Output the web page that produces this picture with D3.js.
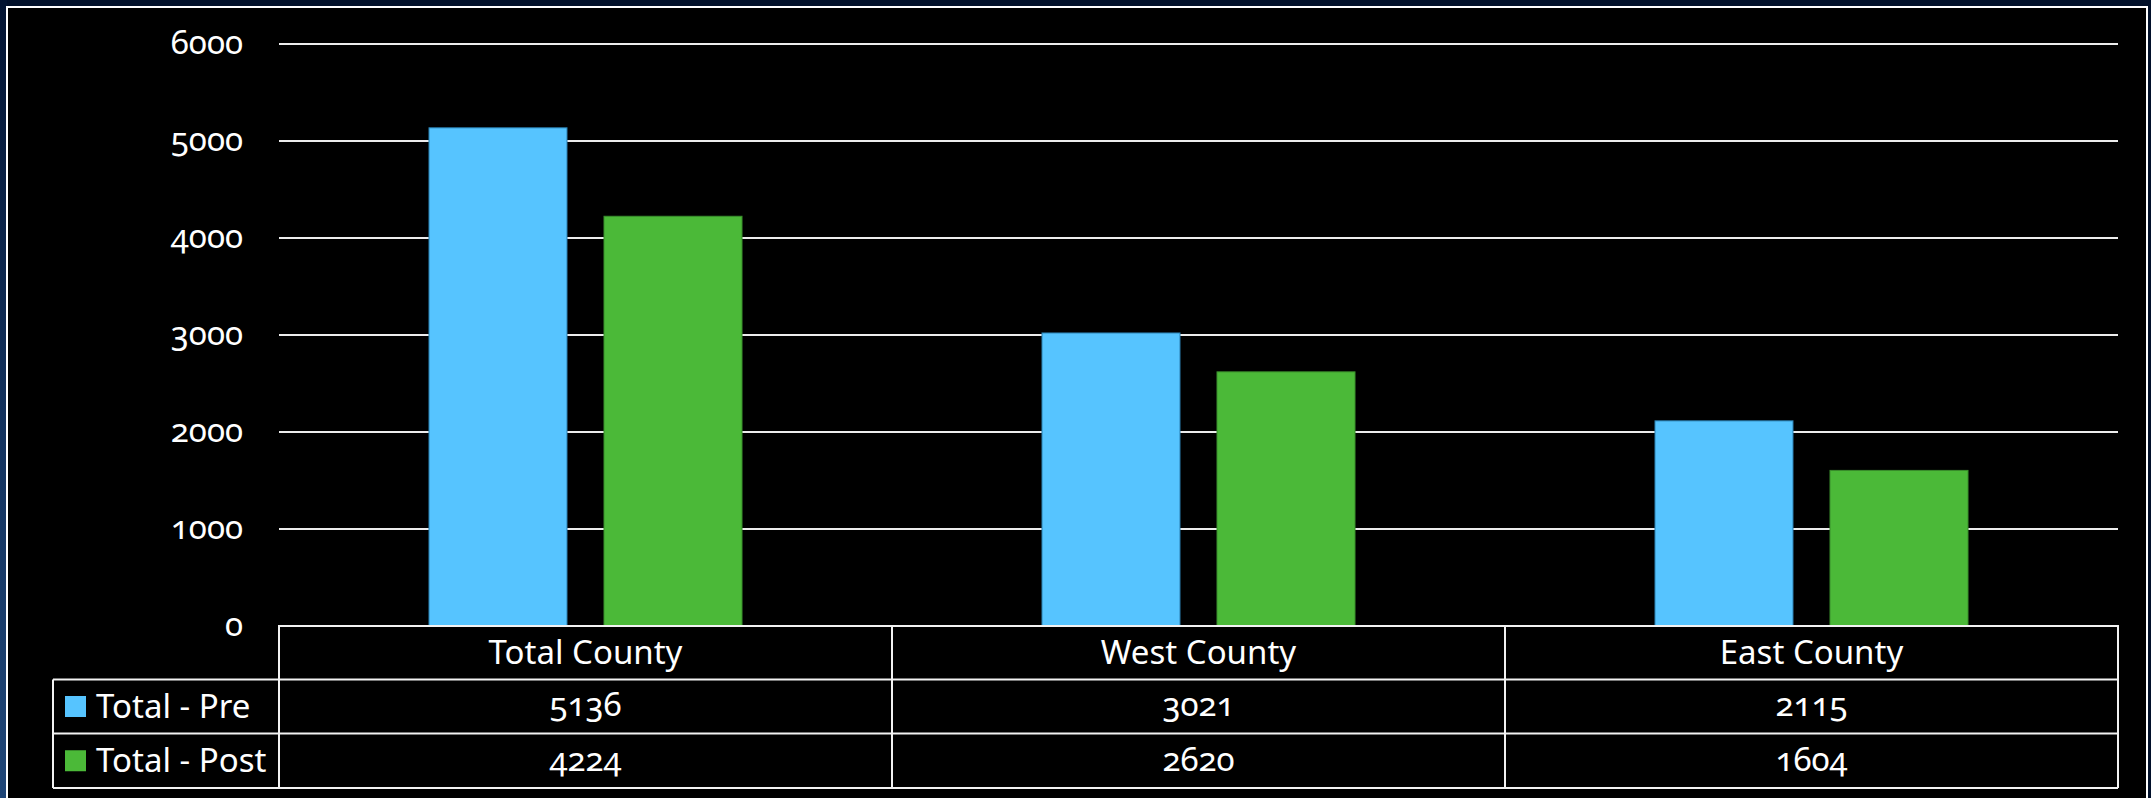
<!DOCTYPE html>
<html>
<head>
<meta charset="utf-8">
<script src="https://cdn.jsdelivr.net/npm/d3@7"></script>
<style>
  html, body { margin: 0; padding: 0; background: #01102a; }
  svg { display: block; }
  text { font-family: "Noto Sans", "Open Sans", sans-serif; font-feature-settings: "onum" 1; font-variant-numeric: oldstyle-nums; fill: #ffffff; }
</style>
</head>
<body>
<svg id="chart" width="2151" height="798"></svg>
<script>
// Chart data
const categories = ["Total County", "West County", "East County"];
const seriesNames = ["Total - Pre", "Total - Post"];
const preValues = [5136, 3021, 2115];
const postValues = [4224, 2620, 1604];
const yTicks = [0, 1000, 2000, 3000, 4000, 5000, 6000];
const seriesColors = ["#56c4ff", "#4bb938"];
const seriesEdges = ["#2a7fb0", "#3a8f2c"];

const seriesValues = [preValues, postValues];

const svg = d3.select("#chart");
const W = 2151, H = 798;
const FONT = 33;

// Frame: navy backdrop with a soft blue glow on the left, white-bordered black panel
const defs = svg.append("defs");
const glow = defs.append("linearGradient").attr("id", "edgeGlow")
  .attr("x1", 0).attr("y1", 0).attr("x2", 0).attr("y2", 1);
glow.append("stop").attr("offset", "0%").attr("stop-color", "#021331");
glow.append("stop").attr("offset", "55%").attr("stop-color", "#13335f");
glow.append("stop").attr("offset", "100%").attr("stop-color", "#1f4677");

svg.append("rect").attr("width", W).attr("height", H).attr("fill", "#01102a");
svg.append("rect").attr("x", 0).attr("y", 0).attr("width", 7).attr("height", H).attr("fill", "url(#edgeGlow)");
svg.append("rect").attr("x", 7).attr("y", 7).attr("width", 2140).attr("height", 820)
  .attr("fill", "#000000").attr("stroke", "#ffffff").attr("stroke-width", 2);

// Layout
const plotLeft = 279, plotRight = 2118;
const plotTop = 44, plotBottom = 626;
const legendLeft = 53;
const rowEdges = [626, 679.5, 733.5, 788];

const x0 = d3.scaleBand().domain(categories).range([plotLeft, plotRight]).paddingInner(0).paddingOuter(0);
const x1 = d3.scaleBand().domain(seriesNames).range([0, x0.bandwidth()])
  .paddingInner(0.2114).paddingOuter(0.857);
const y = d3.scaleLinear().domain([0, 6000]).range([plotBottom, plotTop]);

// Gridlines
svg.append("g").selectAll("line")
  .data(yTicks.filter(t => t > 0))
  .join("line")
  .attr("x1", plotLeft).attr("x2", plotRight)
  .attr("y1", d => y(d)).attr("y2", d => y(d))
  .attr("stroke", "#ececec").attr("stroke-width", 2);

// Y axis labels
const yAxis = d3.axisLeft(y).tickValues(yTicks).tickSize(0).tickPadding(0).tickFormat(d3.format("d"));
const yAxisG = svg.append("g").attr("transform", `translate(243,0)`).call(yAxis);
yAxisG.select(".domain").remove();
yAxisG.selectAll("text")
  .attr("font-size", FONT)
  .attr("dy", "0.3em")
  .style("font-family", "'Noto Sans', 'Open Sans', sans-serif")
  .style("font-feature-settings", "'onum' 1")
  .style("fill", "#ffffff");

// Bars
const groups = svg.append("g").selectAll("g")
  .data(categories)
  .join("g")
  .attr("transform", d => `translate(${x0(d)},0)`);

groups.selectAll("rect")
  .data((c, ci) => seriesNames.map((s, si) => ({ s, si, v: seriesValues[si][ci] })))
  .join("rect")
  .attr("x", d => x1(d.s))
  .attr("width", x1.bandwidth())
  .attr("y", d => y(d.v))
  .attr("height", d => y(0) - y(d.v))
  .attr("fill", d => seriesColors[d.si])
  .attr("stroke", d => seriesEdges[d.si])
  .attr("stroke-width", 1);

// Data table below the plot
const table = svg.append("g");
const lineStyle = sel => sel.attr("stroke", "#f2f2f2").attr("stroke-width", 2).attr("fill", "none");

// header row border
table.append("path")
  .attr("d", `M${plotLeft},${rowEdges[1]} V${rowEdges[0]} H${plotRight} V${rowEdges[3]}`)
  .call(lineStyle);
// series rows borders
rowEdges.slice(1).forEach(yy => {
  table.append("line").attr("x1", legendLeft).attr("x2", plotRight)
    .attr("y1", yy).attr("y2", yy).call(lineStyle);
});
table.append("line").attr("x1", legendLeft).attr("x2", legendLeft)
  .attr("y1", rowEdges[1]).attr("y2", rowEdges[3]).call(lineStyle);
// column separators
categories.map(c => x0(c)).forEach(xx => {
  table.append("line").attr("x1", xx).attr("x2", xx)
    .attr("y1", rowEdges[0]).attr("y2", rowEdges[3]).call(lineStyle);
});

const rowMid = i => (rowEdges[i] + rowEdges[i + 1]) / 2;

// header labels
table.selectAll("text.cat")
  .data(categories)
  .join("text")
  .attr("class", "cat")
  .attr("x", d => x0(d) + x0.bandwidth() / 2)
  .attr("y", rowMid(0))
  .attr("dy", "0.35em")
  .attr("text-anchor", "middle")
  .attr("font-size", FONT)
  .text(d => d);

// value cells
seriesNames.forEach((s, si) => {
  table.selectAll(`text.val${si}`)
    .data(seriesValues[si])
    .join("text")
    .attr("class", `val${si}`)
    .attr("x", (d, ci) => x0(categories[ci]) + x0.bandwidth() / 2)
    .attr("y", rowMid(si + 1))
    .attr("dy", "0.3em")
    .attr("text-anchor", "middle")
    .attr("font-size", FONT)
    .text(d => d);

  // legend key and label
  table.append("rect")
    .attr("x", 65).attr("y", rowMid(si + 1) - 10.5)
    .attr("width", 21).attr("height", 21)
    .attr("fill", seriesColors[si]);
  table.append("text")
    .attr("x", 96).attr("y", rowMid(si + 1))
    .attr("dy", "0.35em")
    .attr("font-size", FONT)
    .text(s);
});
</script>
</body>
</html>
